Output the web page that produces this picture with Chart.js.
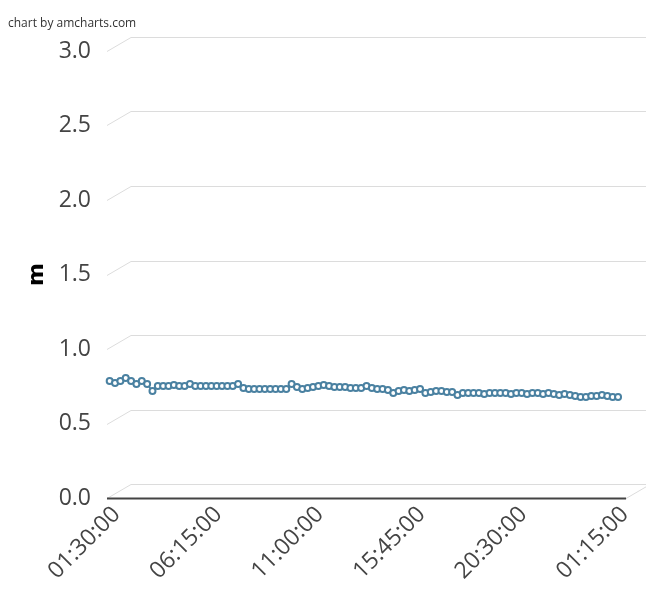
<!DOCTYPE html>
<html>
<head>
<meta charset="utf-8">
<script src="https://cdn.jsdelivr.net/npm/chart.js@4.4.1/dist/chart.umd.min.js"></script>
<style>
    body { margin: 0; background: #fff; }
    #wrap { position: relative; width: 646px; height: 589px; }
    #credit {
        position: absolute; left: 8px; top: 14px;
        font: 12px "Open Sans", "DejaVu Sans", sans-serif; color: #333;
    }
</style>
</head>
<body>
<div id="wrap">
    <canvas id="chartRef" width="646" height="589"></canvas>
    <div id="credit">chart by amcharts.com</div>
</div>
<script>
const timeLabels = [
    "01:30:00", "01:45:00", "02:00:00", "02:15:00", "02:30:00", "02:45:00", "03:00:00", "03:15:00",
    "03:30:00", "03:45:00", "04:00:00", "04:15:00", "04:30:00", "04:45:00", "05:00:00", "05:15:00",
    "05:30:00", "05:45:00", "06:00:00", "06:15:00", "06:30:00", "06:45:00", "07:00:00", "07:15:00",
    "07:30:00", "07:45:00", "08:00:00", "08:15:00", "08:30:00", "08:45:00", "09:00:00", "09:15:00",
    "09:30:00", "09:45:00", "10:00:00", "10:15:00", "10:30:00", "10:45:00", "11:00:00", "11:15:00",
    "11:30:00", "11:45:00", "12:00:00", "12:15:00", "12:30:00", "12:45:00", "13:00:00", "13:15:00",
    "13:30:00", "13:45:00", "14:00:00", "14:15:00", "14:30:00", "14:45:00", "15:00:00", "15:15:00",
    "15:30:00", "15:45:00", "16:00:00", "16:15:00", "16:30:00", "16:45:00", "17:00:00", "17:15:00",
    "17:30:00", "17:45:00", "18:00:00", "18:15:00", "18:30:00", "18:45:00", "19:00:00", "19:15:00",
    "19:30:00", "19:45:00", "20:00:00", "20:15:00", "20:30:00", "20:45:00", "21:00:00", "21:15:00",
    "21:30:00", "21:45:00", "22:00:00", "22:15:00", "22:30:00", "22:45:00", "23:00:00", "23:15:00",
    "23:30:00", "23:45:00", "00:00:00", "00:15:00", "00:30:00", "00:45:00", "01:00:00", "01:15:00",
    "01:30:00"
];

// every 19th category gets a visible label
const shownLabels = ["01:30:00", "06:15:00", "11:00:00", "15:45:00", "20:30:00", "01:15:00"];
const labelStep = 19;

const levelValues = [
    0.785, 0.772, 0.785, 0.805, 0.785, 0.765, 0.785, 0.765, 0.718, 0.752,
    0.752, 0.752, 0.758, 0.752, 0.752, 0.765, 0.752, 0.752, 0.752, 0.752,
    0.752, 0.752, 0.752, 0.752, 0.765, 0.738, 0.732, 0.732, 0.732, 0.732,
    0.732, 0.732, 0.732, 0.732, 0.765, 0.745, 0.732, 0.738, 0.745, 0.752,
    0.758, 0.752, 0.745, 0.745, 0.745, 0.738, 0.738, 0.738, 0.752, 0.738,
    0.732, 0.732, 0.725, 0.705, 0.718, 0.725, 0.718, 0.725, 0.732, 0.705,
    0.711, 0.718, 0.718, 0.711, 0.711, 0.691, 0.705, 0.705, 0.705, 0.705,
    0.698, 0.705, 0.705, 0.705, 0.705, 0.698, 0.705, 0.705, 0.698, 0.705,
    0.705, 0.698, 0.705, 0.698, 0.691, 0.698, 0.691, 0.685, 0.678, 0.678,
    0.685, 0.685, 0.691, 0.685, 0.678, 0.678
];

const yTicks = [0, 0.5, 1.0, 1.5, 2.0, 2.5, 3.0];

// 3D depth of the plot box
const depthX = 24;
const depthY = -14;

const depthGrid = {
    id: 'depthGrid',
    beforeDatasetsDraw(chart) {
        const ctx = chart.ctx;
        const area = chart.chartArea;
        const y = chart.scales.y;
        ctx.save();
        ctx.lineWidth = 1;
        ctx.strokeStyle = '#dcdcdc';
        yTicks.forEach(v => {
            const py = Math.round(y.getPixelForValue(v)) + 0.5;
            ctx.beginPath();
            ctx.moveTo(area.left, py);
            ctx.lineTo(area.left + depthX, py + depthY);
            ctx.lineTo(area.right + depthX, py + depthY);
            ctx.stroke();
        });
        const base = Math.round(y.getPixelForValue(0)) + 0.5;
        ctx.beginPath();
        ctx.moveTo(area.right, base);
        ctx.lineTo(area.right + depthX, base + depthY);
        ctx.stroke();
        ctx.strokeStyle = '#444';
        ctx.lineWidth = 2;
        ctx.beginPath();
        ctx.moveTo(area.left, base);
        ctx.lineTo(area.right, base);
        ctx.stroke();
        ctx.restore();
    }
};

const ctx = document.getElementById('chartRef').getContext('2d');
new Chart(ctx, {
    type: 'line',
    data: {
        labels: timeLabels,
        datasets: [{
            label: 'm',
            data: levelValues,
            borderColor: '#4a81a1',
            borderWidth: 1.5,
            backgroundColor: '#ffffff',
            pointBackgroundColor: '#ffffff',
            pointBorderColor: '#4a81a1',
            pointBorderWidth: 2,
            pointRadius: 3,
            tension: 0,
            fill: false
        }]
    },
    options: {
        responsive: false,
        animation: false,
        devicePixelRatio: 1,
        layout: {
            padding: { top: 51, right: 18, left: 0, bottom: 0 }
        },
        plugins: {
            legend: { display: false },
            tooltip: { enabled: false }
        },
        scales: {
            x: {
                offset: true,
                grid: { display: false, drawTicks: false },
                border: { display: false },
                ticks: {
                    autoSkip: false,
                    minRotation: 45,
                    maxRotation: 45,
                    padding: 3,
                    labelOffset: 7,
                    color: '#444',
                    font: { family: 'Open Sans', size: 23 },
                    callback: function(value, index) {
                        return index % labelStep === 0 ? shownLabels[index / labelStep] || '' : '';
                    }
                },
                afterFit(scale) { scale.height = 91; }
            },
            y: {
                min: 0,
                max: 3,
                grid: { display: false, drawTicks: false },
                border: { display: false },
                ticks: {
                    stepSize: 0.5,
                    padding: 16,
                    color: '#444',
                    font: { family: 'Open Sans', size: 23 },
                    callback: v => v.toFixed(1)
                },
                title: {
                    display: true,
                    text: 'm',
                    color: '#000',
                    padding: { top: 24, bottom: 0 },
                    font: { family: 'DejaVu Sans', size: 22, weight: 'bold' }
                },
                afterFit(scale) { scale.width = 107; }
            }
        }
    },
    plugins: [depthGrid]
});
</script>
</body>
</html>
